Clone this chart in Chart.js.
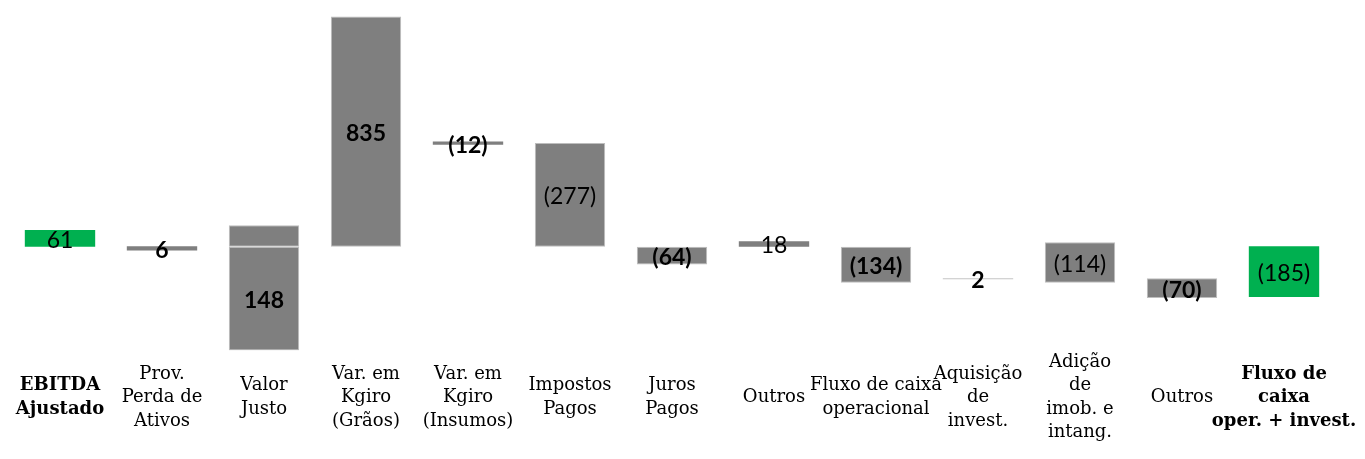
<!DOCTYPE html>
<html>
<head>
<meta charset="utf-8">
<script src="https://cdn.jsdelivr.net/npm/chart.js@4/dist/chart.umd.min.js"></script>
<style>
  html, body { margin: 0; padding: 0; background: #ffffff; }
  #wrap { width: 1365px; height: 459px; }
</style>
</head>
<body>
<div id="wrap"><canvas id="c" width="1365" height="459"></canvas></div>
<script>
// ---- data ----
const categories = [
  ['EBITDA', 'Ajustado'],
  ['Prov.', 'Perda de', 'Ativos'],
  ['Valor', 'Justo'],
  ['Var. em', 'Kgiro', '(Grãos)'],
  ['Var. em', 'Kgiro', '(Insumos)'],
  ['Impostos', 'Pagos'],
  ['Juros', 'Pagos'],
  ['Outros'],
  ['Fluxo de caixa', 'operacional'],
  ['Aquisição', 'de', 'invest.'],
  ['Adição', 'de', 'imob. e', 'intang.'],
  ['Outros'],
  ['Fluxo de', 'caixa', 'oper. + invest.']
];
const valueLabels = ['61', '6', '148', '835', '(12)', '(277)', '(64)', '18', '(134)', '2', '(114)', '(70)', '(185)'];
// floating bar extents (bottom / top) as drawn in the picture
const barLow  = [0, -14, -376, 0, 370, 0, -64, 0, -131, -118, -131, -186, -182];
const barHigh = [61, 2, 0, 835, 382, 376, 0, 20, 0, -114, 16, -114, 2];
// second (upper) piece of the "Valor Justo" bar
const upperLow  = [null, null, 0, null, null, null, null, null, null, null, null, null, null];
const upperHigh = [null, null, 78, null, null, null, null, null, null, null, null, null, null];

// ---- styles ----
const GRAY = '#7f7f7f', GREEN = '#00b050', LIGHT = '#c4c4c4', EDGE = '#bdbdbd';
const barColors = categories.map((_, i) => (i === 0 || i === 12) ? GREEN : (i === 9 ? LIGHT : GRAY));
const edgeIdx = [2, 3, 5, 6, 8, 10, 11];
const barBorders = categories.map((_, i) => edgeIdx.includes(i) ? 1 : 0);
const valueBold = [false, true, true, true, true, false, true, false, true, true, false, true, false];
const boldTicks = [0, 12];

const valueLabelPlugin = {
  id: 'valueLabels',
  afterDatasetsDraw(chart) {
    const ctx = chart.ctx;
    const meta = chart.getDatasetMeta(0);
    ctx.save();
    ctx.fillStyle = '#000';
    ctx.textAlign = 'center';
    ctx.textBaseline = 'middle';
    meta.data.forEach((el, i) => {
      const p = el.getProps(['x', 'y', 'base'], true);
      ctx.font = (valueBold[i] ? 'bold ' : '') + '23px Lato';
      ctx.fillText(valueLabels[i], p.x, (p.y + p.base) / 2 + 2);
    });
    ctx.restore();
  }
};

new Chart(document.getElementById('c'), {
  type: 'bar',
  data: {
    labels: categories,
    datasets: [
      {
        data: barLow.map((l, i) => [l, barHigh[i]]),
        backgroundColor: barColors,
        borderColor: EDGE,
        borderWidth: barBorders,
        borderSkipped: false,
        grouped: false,
        barPercentage: 1,
        categoryPercentage: 0.69
      },
      {
        data: upperLow.map((l, i) => (l === null ? null : [l, upperHigh[i]])),
        backgroundColor: GRAY,
        borderColor: EDGE,
        borderWidth: 1,
        borderSkipped: false,
        grouped: false,
        barPercentage: 1,
        categoryPercentage: 0.69
      }
    ]
  },
  options: {
    responsive: false,
    devicePixelRatio: 1,
    animation: false,
    layout: { padding: { left: 9, right: 30, top: 0, bottom: -9 } },
    plugins: { legend: { display: false }, tooltip: { enabled: false } },
    scales: {
      x: {
        afterFit(scale) { scale.paddingLeft = 0; scale.paddingRight = 0; },
        grid: { display: false, drawTicks: false },
        border: { display: false },
        ticks: {
          color: '#000',
          autoSkip: false,
          maxRotation: 0,
          padding: 12,
          crossAlign: 'center',
          font: (c) => ({
            family: 'DejaVu Serif',
            size: 18,
            lineHeight: 1.3,
            weight: boldTicks.includes(c.index) ? 'bold' : 'normal'
          })
        }
      },
      y: { display: false, min: -376, max: 895 }
    }
  },
  plugins: [valueLabelPlugin]
});
</script>
</body>
</html>
